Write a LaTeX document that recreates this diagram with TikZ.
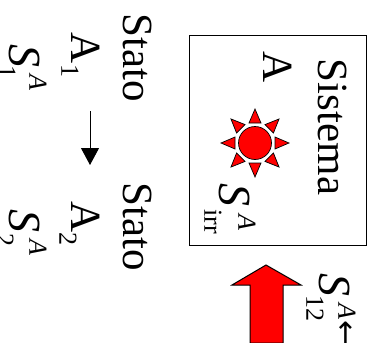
\documentclass[tikz,border=0pt]{standalone}
\usepackage{fontspec}
\setmainfont{Liberation Serif}
\newfontfamily\arrowfont{DejaVu Sans}
\usetikzlibrary{arrows.meta}
\tikzset{
  big/.style={rotate=-90,inner sep=0pt,font=\fontsize{43}{43}\selectfont},
  bigit/.style={rotate=-90,inner sep=0pt,font=\fontsize{46}{46}\selectfont\itshape},
  small/.style={rotate=-90,inner sep=0pt,font=\fontsize{26}{26}\selectfont},
  smallit/.style={rotate=-90,inner sep=0pt,font=\fontsize{26}{26}\selectfont\itshape},
  sunray/.style={draw=black,fill=red,line width=0.7pt,line join=miter},
  stepflow/.style={line width=1pt,-{Triangle[width=18pt,length=17pt]}}
}
\begin{document}
\begin{tikzpicture}[x=1pt,y=-1pt]
\useasboundingbox (0,0) rectangle (378,343);
\node[draw,line width=1pt,minimum width=177pt,minimum height=210pt,inner sep=0pt] (box) at (277.5,140) {};
\node[big] (sis) at (333,127) {Sistema};
\node[big] (a0) at (278,67) {A};
% sun
\node[circle,draw=black,fill=red,line width=0.7pt,minimum size=33pt,inner sep=0pt] (sun) at (255,143) {};
\foreach \a in {0,45,...,315}{
  \draw[sunray] ({255+34*cos(\a)},{143+34*sin(\a)}) -- ({255+20*cos(\a)+6*sin(\a)},{143+20*sin(\a)-6*cos(\a)}) -- ({255+20*cos(\a)-6*sin(\a)},{143+20*sin(\a)+6*cos(\a)}) -- cycle;
}
\node[bigit] (sirr) at (235,195) {S};
\node[smallit] (sirra) at (247,222) {A};
\node[small] (sirrb) at (213,222) {irr};
% red arrow
\draw[draw=black,fill=red,line width=1pt,line join=miter] (266,265) -- (301,285) -- (283,285) -- (283,343) -- (250,343) -- (250,285) -- (232,285) -- cycle;
\node[bigit] (s12) at (335,285) {S};
\node[small] (s12b) at (315,308) {12};
\node[smallit] (s12a) at (347,311) {A};
\node[rotate=-90,inner sep=0pt,font=\fontsize{30}{30}\selectfont\arrowfont] (s12c) at (344,333) {←};
% states
\node[big] (st1) at (138,58) {Stato};
\node[big] (st2) at (138,227) {Stato};
\node[big] (a1) at (86,48) {A};
\node[small] (a1b) at (70,71) {1};
\node[big] (a2) at (86,217) {A};
\node[small] (a2b) at (68,239) {2};
\node[bigit] (s1) at (25,56) {S};
\node[smallit] (s1a) at (38,82) {A};
\node[small] (s1b) at (7,72) {1};
\node[bigit] (s2) at (25,221) {S};
\node[smallit] (s2a) at (38,247) {A};
\node[small] (s2b) at (5,240) {2};
\coordinate (fa) at (90,111);
\coordinate (fb) at (90,165);
\draw[stepflow] (fa) -- (fb);
\end{tikzpicture}
\end{document}
